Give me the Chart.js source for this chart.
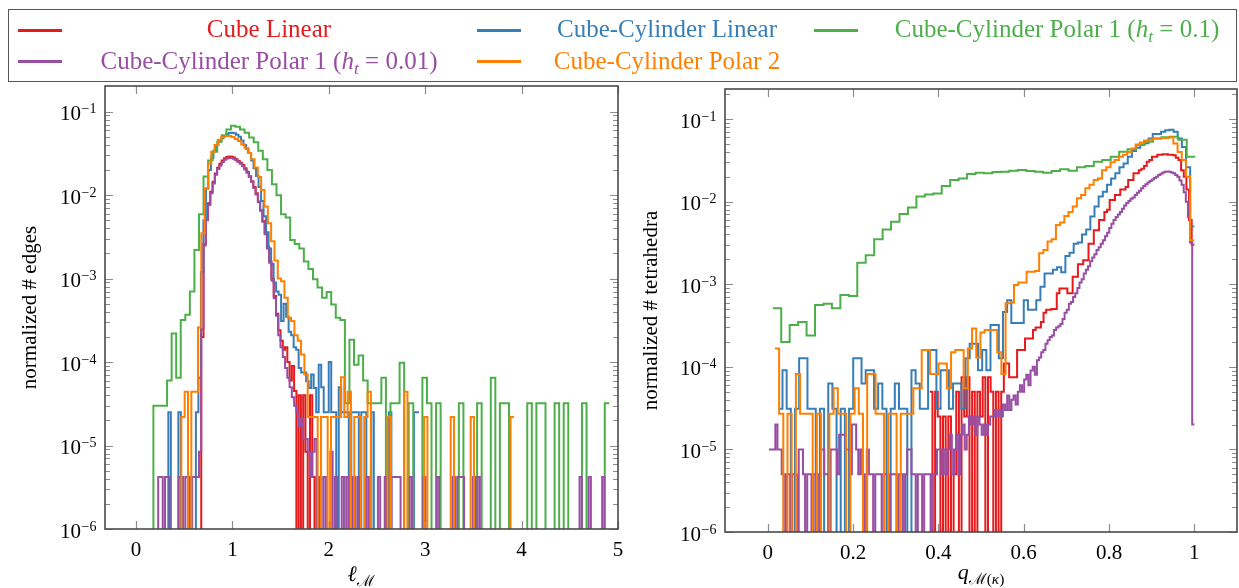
<!DOCTYPE html>
<html>
<head>
<meta charset="utf-8">
<script src="https://cdn.jsdelivr.net/npm/chart.js@4.4.1/dist/chart.umd.min.js"></script>
<style>
  html, body { margin: 0; padding: 0; background: #fff; }
  #page { position: relative; width: 1239px; height: 588px; overflow: hidden;
          font-family: 'Liberation Serif', 'DejaVu Serif', serif; }
  canvas { position: absolute; top: 0; }
  #legendBox { position: absolute; left: 8px; top: 9px; width: 1229px; height: 73px;
               border: 1.5px solid #555; box-sizing: border-box; }
  .swatch { position: absolute; height: 2.5px; width: 44px; }
  .lbl { position: absolute; font-size: 25px; line-height: 1; white-space: nowrap; transform: translateX(-50%); }
  .xt { position: absolute; font-size: 22px; line-height: 1; white-space: nowrap; transform: translateX(-50%); color: #000; }
  sub { font-size: 0.7em; vertical-align: -0.3em; line-height: 0; }
</style>
</head>
<body>
<div id="page">
  <canvas id="lenChart" width="640" height="588" style="left:0"></canvas>
  <canvas id="qChart" width="619" height="588" style="left:620px"></canvas>
  <div id="legendBox"></div>
  <div class="xt" style="left:361px; top:563px;"><i>ℓ</i><sub>ℳ</sub></div>
  <div class="xt" style="left:981px; top:561px;"><i>q</i><sub>ℳ(<i>κ</i>)</sub></div>
</div>
<script>
// series, in pgfplots drawing order
const seriesNames = [
  'Cube Linear',
  'Cube-Cylinder Linear',
  'Cube-Cylinder Polar 1 (<i>h</i><sub><i>t</i></sub> = 0.1)',
  'Cube-Cylinder Polar 1 (<i>h</i><sub><i>t</i></sub> = 0.01)',
  'Cube-Cylinder Polar 2'
];

const yTickVals = [1e-6, 1e-5, 1e-4, 1e-3, 1e-2, 1e-1];
const yTickLabels = ['10^−6', '10^−5', '10^−4', '10^−3', '10^−2', '10^−1'];
const lenTickVals = [0, 1, 2, 3, 4, 5];
const lenTickLabels = ['0', '1', '2', '3', '4', '5'];
const qTickVals = [0, 0.2, 0.4, 0.6, 0.8, 1];
const qTickLabels = ['0', '0.2', '0.4', '0.6', '0.8', '1'];

// left panel: edge length histograms, bins = [first edge, bin width]
const lenCubeLinearBins = [0.653, 0.0235];
const lenCubeLinear = [
  0, 2e-4, 2.6e-3, 5.2e-3, 8e-3, 1.1e-2, 1.45e-2, 1.82e-2, 2.13e-2, 2.37e-2, 2.6e-2,
  2.76e-2, 2.86e-2, 2.9e-2, 2.88e-2, 2.82e-2, 2.7e-2, 2.57e-2, 2.44e-2, 2.3e-2, 2.1e-2,
  1.9e-2, 1.68e-2, 1.47e-2, 1.25e-2, 1.05e-2, 8.4e-3, 6.6e-3, 4.9e-3, 3.5e-3, 2.4e-3,
  1.6e-3, 1e-3, 6.2e-4, 3.8e-4, 2.4e-4, 1.8e-4, 1.4e-4, 1.5e-4, 1e-4, 6e-5,
  9e-5, 4.5e-5, 0, 4e-5, 0, 4e-5, 8.4e-6, 0, 4e-5, 4.2e-6,
  0, 4.2e-6
];

const lenCylLinearBins = [0.309, 0.026];
const lenCylLinear = [
  0, 2.5e-5, 0, 0, 0, 2.5e-5, 0, 0, 0, 0, 0,
  0, 2.5e-5, 6.5e-5, 1.2e-3, 5e-3, 1.2e-2, 2e-2, 2.8e-2, 3.4e-2, 4e-2,
  4.4e-2, 4.8e-2, 5.1e-2, 5.35e-2, 5.55e-2, 5.6e-2, 5.5e-2, 5.3e-2, 5e-2, 4.5e-2,
  4e-2, 3.6e-2, 3.2e-2, 2.6e-2, 2.1e-2, 1.7e-2, 1.25e-2, 8.5e-3, 5.6e-3, 3.6e-3,
  2.3e-3, 1.5e-3, 9e-4, 7e-4, 6.4e-4, 3.1e-4, 5e-4, 3.5e-4, 2.3e-4, 2.1e-4,
  1.5e-4, 1.4e-4, 8.5e-5, 7.5e-5, 7.5e-5, 5.9e-5, 4.9e-5, 7.1e-5, 4.9e-5, 2.5e-5,
  9.3e-5, 5e-5, 2.5e-5, 2.5e-5, 1e-4, 2.5e-5, 2.5e-5, 0, 5e-5, 2.5e-5,
  2.5e-5, 2.5e-5, 0, 2.5e-5, 2.5e-5, 2.5e-5, 0, 2.5e-5, 2.5e-5, 0,
  0, 2.5e-5, 0, 0, 0, 0, 0, 0, 2.5e-5, 0,
  0, 0, 0, 0, 0, 0, 0, 0, 2.5e-5, 2.5e-5
];

const lenPolar1CoarseBins = [0.1327, 0.0473];
const lenPolar1Coarse = [
  0, 3e-5, 3e-5, 3e-5, 6e-5, 2.2e-4, 6.5e-5, 3.2e-4, 3.7e-4, 7e-4, 2.2e-3,
  5.9e-3, 1.67e-2, 2.6e-2, 3.3e-2, 4.4e-2, 5.2e-2, 6.1e-2, 6.8e-2, 6.6e-2, 6.1e-2,
  5.6e-2, 4.9e-2, 4.3e-2, 3.4e-2, 2.7e-2, 2e-2, 1.35e-2, 1e-2, 5.9e-3, 5.4e-3,
  2.9e-3, 2.6e-3, 2.3e-3, 1.6e-3, 1.3e-3, 9.8e-4, 7.8e-4, 5.9e-4, 6.9e-4, 4.9e-4,
  3.4e-4, 3.2e-4, 3.2e-5, 1.85e-4, 9.3e-5, 1.2e-4, 6e-5, 3.2e-5, 3.2e-5, 3.2e-5,
  6.5e-5, 0, 3.2e-5, 3.2e-5, 9.8e-5, 0, 3.2e-5, 0, 0, 6.5e-5,
  3.2e-5, 0, 3.2e-5, 0, 0, 0, 0, 3.2e-5, 0, 0,
  0, 3.2e-5, 0, 0, 6.5e-5, 0, 3.2e-5, 3.2e-5, 0, 0,
  0, 0, 3.2e-5, 0, 3.2e-5, 3.2e-5, 0, 0, 3.2e-5, 0,
  3.2e-5, 0, 0, 0, 3.2e-5, 0, 0, 0, 0, 3.2e-5
];

const lenPolar1FineBins = [0.2065, 0.0235];
const lenPolar1Fine = [
  0, 4.2e-6, 4.2e-6, 0, 4.2e-6, 4.2e-6, 0, 0, 0, 0, 4.2e-6,
  4.2e-6, 0, 4.2e-6, 4.2e-6, 0, 4.2e-6, 4.2e-6, 4.2e-6, 8.4e-6, 2.5e-4,
  2.5e-3, 5e-3, 7.6e-3, 1.05e-2, 1.38e-2, 1.75e-2, 2.05e-2, 2.27e-2, 2.5e-2, 2.65e-2,
  2.74e-2, 2.79e-2, 2.78e-2, 2.73e-2, 2.62e-2, 2.5e-2, 2.38e-2, 2.24e-2, 2.03e-2, 1.85e-2,
  1.65e-2, 1.44e-2, 1.22e-2, 1.02e-2, 8.2e-3, 6.5e-3, 4.8e-3, 3.4e-3, 2.3e-3, 1.55e-3,
  9.5e-4, 5.8e-4, 3.6e-4, 2.1e-4, 1.5e-4, 1.15e-4, 8.5e-5, 6.5e-5, 5e-5, 3.8e-5,
  3e-5, 2.5e-5, 1.7e-5, 2.1e-5, 1.2e-5, 1.2e-5, 8.4e-6, 4.2e-6, 8.4e-6, 1.2e-5,
  0, 4.2e-6, 0, 4.2e-6, 0, 0, 8.4e-6, 0, 4.2e-6, 0,
  0, 4.2e-6, 0, 4.2e-6, 0, 0, 4.2e-6, 0, 4.2e-6, 0,
  0, 0, 4.2e-6, 0, 0, 0, 0, 4.2e-6, 0, 0,
  4.2e-6, 0, 0, 4.2e-6, 4.2e-6, 4.2e-6, 4.2e-6, 0, 0, 0,
  0, 4.2e-6, 0, 0, 0, 0, 0, 4.2e-6, 0, 0,
  0, 0, 0, 4.2e-6, 0, 0, 0, 0, 0, 0,
  4.2e-6, 0, 4.2e-6, 4.2e-6, 4.2e-6, 0, 0, 0, 0, 4.2e-6,
  0, 4.2e-6, 0, 0, 0, 0, 0, 0, 0, 0,
  0, 0, 0, 0, 0, 0, 0, 0, 0, 0,
  0, 0, 0, 0, 0, 0, 0, 0, 0, 0,
  0, 0, 0, 0, 0, 0, 0, 0, 0, 0,
  0, 0, 0, 0, 0, 0, 4.2e-6, 0, 0, 0,
  4.2e-6, 0, 0, 0, 0, 0, 4.2e-6, 0, 0
];

const lenPolar2Bins = [0.4355, 0.0345];
const lenPolar2 = [
  0, 2.2e-5, 4.4e-5, 0, 4.4e-5, 4.4e-5, 2.6e-4, 3.5e-3, 1.2e-2, 2.4e-2, 3.3e-2,
  4e-2, 4.6e-2, 4.95e-2, 5.1e-2, 5.1e-2, 4.97e-2, 4.7e-2, 4.45e-2, 4.05e-2, 3.7e-2,
  3.2e-2, 2.7e-2, 2.15e-2, 1.65e-2, 1.15e-2, 7.3e-3, 4.6e-3, 2.8e-3, 1.65e-3, 1e-3,
  9.3e-4, 5.9e-4, 3.4e-4, 3.1e-4, 2.1e-4, 1.8e-4, 1.23e-4, 7.1e-5, 2.2e-5, 2.2e-5,
  2.2e-5, 0, 2.2e-5, 2.2e-5, 0, 2.2e-5, 2.2e-5, 2.2e-5, 6.6e-5, 2.2e-5,
  4.4e-5, 0, 2.2e-5, 2.2e-5, 0, 2.2e-5, 4.4e-5, 0, 0, 0,
  0, 0, 2.2e-5, 0, 0, 0, 0, 4.4e-5, 0, 0,
  0, 0, 0, 2.2e-5, 0, 0, 0, 0, 0, 0,
  0, 2.2e-5, 0, 0, 0, 0, 0, 2.2e-5, 0, 0,
  0, 0, 0, 0, 0, 0, 0, 0, 0, 2.2e-5
];

// right panel: tetrahedron quality histograms
const qCubeLinearBins = [0.38, 0.0062];
const qCubeLinear = [
  5e-5, 0, 5e-5, 2.5e-5, 0, 2.5e-5, 0, 2.5e-5, 0, 5e-6,
  5e-5, 0, 7.5e-5, 2.5e-5, 7.5e-5, 0, 5e-5, 0, 5e-5, 2.5e-5,
  7.5e-5, 0, 7.5e-5, 5e-5, 0, 5e-5, 0, 5e-5, 1.1e-4, 1.1e-4,
  7.5e-5, 7.5e-5, 7.5e-5, 1.6e-4, 1.6e-4, 1.6e-4, 2.2e-4, 2.2e-4, 2.2e-4, 2.8e-4,
  3e-4, 3e-4, 3.5e-4, 4.5e-4, 4.9e-4, 4.9e-4, 5e-4, 5e-4, 7.8e-4, 8.9e-4,
  8.9e-4, 8.9e-4, 7.8e-4, 7.8e-4, 1.23e-3, 1.23e-3, 1.75e-3, 1.75e-3, 1.95e-3, 1.95e-3,
  3.1e-3, 3.1e-3, 4.5e-3, 4.5e-3, 6e-3, 6e-3, 7.5e-3, 8e-3, 1.05e-2, 1.05e-2,
  1.2e-2, 1.2e-2, 1.4e-2, 1.4e-2, 1.5e-2, 1.83e-2, 1.83e-2, 2.2e-2, 2.2e-2, 2.4e-2,
  2.5e-2, 2.7e-2, 3.04e-2, 3.2e-2, 3.5e-2, 3.5e-2, 3.7e-2, 3.7e-2, 3.75e-2, 3.75e-2,
  3.7e-2, 3.7e-2, 3.65e-2, 3.4e-2, 3.2e-2, 2.4e-2, 2e-2, 1.4e-2, 6e-3, 3e-3
];

const qCylLinearBins = [0.025, 0.00975];
const qCylLinear = [
  3.1e-5, 9.1e-5, 3.1e-5, 0, 3.1e-5, 1.27e-4, 1.27e-4, 3.1e-5, 3.1e-5, 0,
  3.1e-5, 0, 6.3e-5, 3.1e-5, 0, 3.1e-5, 0, 3.1e-5, 1.27e-4, 1.27e-4,
  6.3e-5, 9.1e-5, 9.1e-5, 3.1e-5, 6.3e-5, 3.1e-5, 0, 3.1e-5, 6.3e-5, 3.1e-5,
  3.1e-5, 0, 9.1e-5, 6.3e-5, 3.1e-5, 3.1e-5, 1.6e-4, 1.6e-4, 3.1e-5, 9.1e-5,
  9.1e-5, 3.1e-5, 6.3e-5, 6.3e-5, 3.1e-5, 1.27e-4, 1.9e-4, 1.9e-4, 9.1e-5, 1.6e-4,
  9.1e-5, 3.2e-4, 3.2e-4, 1.27e-4, 4.6e-4, 6.4e-4, 3.4e-4, 3.4e-4, 3.4e-4, 6.4e-4,
  4.9e-4, 4.9e-4, 6.4e-4, 9.3e-4, 1.35e-3, 1.35e-3, 1.5e-3, 1.6e-3, 1.4e-3, 2.2e-3,
  2.4e-3, 3.1e-3, 3.2e-3, 4e-3, 4.6e-3, 6.6e-3, 8.7e-3, 1.15e-2, 1.32e-2, 1.6e-2,
  1.9e-2, 2.2e-2, 2.6e-2, 2.9e-2, 3.5e-2, 4.1e-2, 4.5e-2, 4.9e-2, 5.1e-2, 5.8e-2,
  6.6e-2, 6.6e-2, 7e-2, 7.3e-2, 7.4e-2, 7e-2, 5.8e-2, 4.6e-2, 2.6e-2, 5e-3
];

const qPolar1CoarseBins = [0.012, 0.0198];
const qPolar1Coarse = [
  5.1e-4, 2e-4, 3.2e-4, 3.5e-4, 2.4e-4, 5.6e-4, 5.8e-4, 5.1e-4, 7.4e-4, 7.2e-4,
  1.82e-3, 2.25e-3, 3.5e-3, 4.6e-3, 5.7e-3, 7.1e-3, 8.5e-3, 1.15e-2, 1.22e-2, 1.25e-2,
  1.55e-2, 1.83e-2, 1.91e-2, 2.16e-2, 2.24e-2, 2.2e-2, 2.28e-2, 2.3e-2, 2.37e-2, 2.41e-2,
  2.35e-2, 2.3e-2, 2.24e-2, 2.35e-2, 2.46e-2, 2.37e-2, 2.6e-2, 2.7e-2, 3.04e-2, 3.19e-2,
  3.5e-2, 4.02e-2, 4.3e-2, 4.84e-2, 5.3e-2, 5.8e-2, 6e-2, 6.1e-2, 5.6e-2, 3.5e-2
];

const qPolar1FineBins = [0.003, 0.004985];
const qPolar1Fine = [
  1e-5, 1e-5, 1e-5, 2e-5, 1e-5, 1e-5, 5e-6, 0, 5e-6, 5e-6,
  0, 5e-6, 5e-6, 0, 1e-5, 1e-5, 5e-6, 0, 5e-6, 5e-6,
  0, 5e-6, 5e-6, 0, 1e-5, 1e-5, 5e-6, 5e-6, 0, 1e-5,
  1e-5, 1e-5, 5e-6, 1.5e-5, 1.5e-5, 1.5e-5, 1e-5, 1e-5, 5e-6, 2e-5,
  2e-5, 1e-5, 5e-6, 1e-5, 5e-6, 0, 1e-5, 5e-6, 5e-6, 0,
  5e-6, 5e-6, 5e-6, 0, 5e-6, 5e-6, 0, 5e-6, 5e-6, 5e-6,
  0, 5e-6, 5e-6, 0, 5e-6, 1e-5, 1e-5, 5e-6, 5e-6, 0,
  5e-6, 5e-6, 0, 5e-6, 5e-6, 5e-6, 0, 5e-6, 5e-6, 1e-5,
  1e-5, 5e-6, 1e-5, 5e-6, 1e-5, 1.5e-5, 5e-6, 1e-5, 1.5e-5, 5e-6,
  1.5e-5, 2e-5, 1e-5, 1.5e-5, 2.5e-5, 2e-5, 2.5e-5, 1.5e-5, 2.5e-5, 2e-5,
  1.5e-5, 2e-5, 1.5e-5, 2e-5, 2.5e-5, 2.5e-5, 3e-5, 2.5e-5, 3e-5, 2.5e-5,
  3.5e-5, 3e-5, 4.5e-5, 3e-5, 4e-5, 4.5e-5, 3.5e-5, 5e-5, 6e-5, 5e-5,
  7e-5, 8e-5, 6e-5, 9e-5, 1e-4, 8e-5, 1.2e-4, 1.3e-4, 1.5e-4, 1.6e-4,
  1.9e-4, 2.1e-4, 2.3e-4, 2.4e-4, 2.8e-4, 3e-4, 3.1e-4, 3.3e-4, 3.8e-4, 4.5e-4,
  4.9e-4, 5.8e-4, 6.1e-4, 7e-4, 7.8e-4, 9e-4, 1.05e-3, 1.15e-3, 1.35e-3, 1.5e-3,
  1.65e-3, 1.9e-3, 2.1e-3, 2.3e-3, 2.6e-3, 2.8e-3, 3.1e-3, 3.4e-3, 3.8e-3, 4.2e-3,
  4.8e-3, 5.4e-3, 6e-3, 6.5e-3, 7e-3, 7.5e-3, 8.2e-3, 9e-3, 9.6e-3, 1.02e-2,
  1.08e-2, 1.12e-2, 1.2e-2, 1.28e-2, 1.35e-2, 1.45e-2, 1.55e-2, 1.62e-2, 1.7e-2, 1.78e-2,
  1.85e-2, 1.93e-2, 2e-2, 2.1e-2, 2.18e-2, 2.25e-2, 2.3e-2, 2.32e-2, 2.3e-2, 2.25e-2,
  2.2e-2, 2.1e-2, 2e-2, 1.8e-2, 1.6e-2, 1.3e-2, 1e-2, 6.5e-3, 3.2e-3, 2e-5
];

const qPolar2Bins = [0.017, 0.00983];
const qPolar2 = [
  1.67e-4, 2.7e-5, 0, 2.7e-5, 0, 8.2e-5, 2.7e-5, 2.7e-5, 2.7e-5, 0,
  2.7e-5, 0, 0, 2.7e-5, 5.5e-5, 2.7e-5, 2.7e-5, 0, 2.7e-5, 5.5e-5,
  2.7e-5, 0, 8.2e-5, 8.2e-5, 2.7e-5, 2.7e-5, 0, 2.7e-5, 2.7e-5, 0,
  2.7e-5, 2.7e-5, 2.7e-5, 5.5e-5, 5.5e-5, 1.6e-4, 1.6e-4, 8.2e-5, 8.2e-5, 1.1e-4,
  1.1e-4, 5.5e-5, 1.5e-4, 1.6e-4, 1.6e-4, 5.5e-5, 1.67e-4, 2.9e-4, 1.3e-4, 2.6e-4,
  2.8e-4, 2.8e-4, 2.8e-4, 1.5e-4, 8.2e-5, 5.9e-4, 6e-4, 9.8e-4, 1.05e-3, 1.05e-3,
  1.42e-3, 1.42e-3, 1.45e-3, 2.37e-3, 2.6e-3, 3.3e-3, 3.5e-3, 5.2e-3, 5.6e-3, 6.7e-3,
  7.5e-3, 8.7e-3, 1.1e-2, 1.2e-2, 1.45e-2, 1.6e-2, 1.83e-2, 1.9e-2, 2.4e-2, 2.6e-2,
  3e-2, 3.2e-2, 3.5e-2, 3.7e-2, 4e-2, 4.4e-2, 4.9e-2, 5.2e-2, 5.5e-2, 5.6e-2,
  5.8e-2, 5.8e-2, 5.9e-2, 5.9e-2, 6e-2, 5.07e-2, 4e-2, 3.2e-2, 2e-2, 3.4e-3
];

const colors = ['#e41a1c', '#377eb8', '#4daf4a', '#984ea3', '#ff7f00'];
const serif = "'Liberation Serif', 'DejaVu Serif', serif";

// legend: 3 columns, row-major like pgfplots
const legendCols = [{ line: 18, text: 269 }, { line: 477, text: 667 }, { line: 814, text: 1057 }];
const legendRows = [{ line: 29, text: 16 }, { line: 60, text: 48 }];
const page = document.getElementById('page');
seriesNames.forEach((name, i) => {
  const col = legendCols[i % 3], row = legendRows[Math.floor(i / 3)];
  const sw = document.createElement('div');
  sw.className = 'swatch';
  sw.style.left = col.line + 'px';
  sw.style.top = row.line + 'px';
  sw.style.background = colors[i];
  page.appendChild(sw);
  const lb = document.createElement('div');
  lb.className = 'lbl';
  lb.style.left = col.text + 'px';
  lb.style.top = row.text + 'px';
  lb.style.color = colors[i];
  lb.innerHTML = name;
  page.appendChild(lb);
});

// outline of one histogram: two corners per bin, empty bins fall below the axis
function histPoints(bins, vals) {
  const start = bins[0], step = bins[1];
  const pts = [];
  vals.forEach((v, i) => {
    const y = v > 0 ? v : 1e-9;
    pts.push({ x: start + i * step, y: y });
    pts.push({ x: start + (i + 1) * step, y: y });
  });
  return pts;
}

// frame with inward ticks on all four sides, plus 10^k labels with a real superscript
const frameTicks = {
  id: 'frameTicks',
  afterDatasetsDraw(chart) {
    const { ctx, chartArea: a, scales: { x, y } } = chart;
    ctx.save();
    ctx.strokeStyle = '#8c8c8c';
    ctx.lineWidth = 1.2;
    ctx.beginPath();
    x.ticks.forEach(t => {
      const px = Math.round(x.getPixelForValue(t.value)) + 0.5;
      ctx.moveTo(px, a.bottom); ctx.lineTo(px, a.bottom - 8);
      ctx.moveTo(px, a.top); ctx.lineTo(px, a.top + 8);
    });
    yTickVals.forEach(d => {
      for (let m = 1; m < 10; m++) {
        const v = d * m;
        if (v > y.max * 0.97) continue;
        const py = Math.round(y.getPixelForValue(v)) + 0.5;
        const len = m === 1 ? 8 : 5;
        ctx.moveTo(a.left, py); ctx.lineTo(a.left + len, py);
        ctx.moveTo(a.right, py); ctx.lineTo(a.right - len, py);
      }
    });
    ctx.stroke();
    ctx.strokeStyle = '#4a4a4a';
    ctx.lineWidth = 1.6;
    ctx.strokeRect(a.left, a.top, a.right - a.left, a.bottom - a.top);

    ctx.fillStyle = '#000';
    ctx.textAlign = 'left';
    ctx.textBaseline = 'alphabetic';
    yTickVals.forEach((v, i) => {
      const parts = yTickLabels[i].split('^');
      const py = y.getPixelForValue(v);
      ctx.font = '21px ' + serif;
      const wb = ctx.measureText(parts[0]).width;
      ctx.font = '14px ' + serif;
      const we = ctx.measureText(parts[1]).width;
      const x0 = a.left - 9 - wb - we;
      ctx.font = '21px ' + serif;
      ctx.fillText(parts[0], x0, py + 8.5);
      ctx.font = '14px ' + serif;
      ctx.fillText(parts[1], x0 + wb + 0.5, py + 1.5);
    });
    ctx.restore();
  }
};

function makePanel(canvasId, series, p) {
  const datasets = series.map((s, i) => ({
    data: histPoints(s[0], s[1]),
    borderColor: colors[i],
    borderWidth: 2,
    pointRadius: 0,
    fill: false,
    tension: 0,
    order: 5 - i
  }));
  return new Chart(document.getElementById(canvasId), {
    type: 'line',
    data: { datasets: datasets },
    options: {
      responsive: false,
      animation: false,
      devicePixelRatio: 1,
      layout: { padding: { top: p.top, right: p.right, bottom: 0, left: 0 } },
      plugins: { legend: { display: false }, tooltip: { enabled: false } },
      scales: {
        x: {
          type: 'linear', min: p.xMin, max: p.xMax, bounds: 'data',
          grid: { display: false }, border: { display: false },
          afterBuildTicks: s => { s.ticks = p.xTicks.map(v => ({ value: v })); },
          ticks: {
            autoSkip: false, maxRotation: 0, padding: 1, color: '#000',
            font: { family: serif, size: 21 },
            callback: (v, i) => p.xLabels[i]
          },
          afterFit: s => { s.height = p.xHeight; s.paddingLeft = 0; s.paddingRight = 0; }
        },
        y: {
          type: 'logarithmic', min: 1e-6, max: p.yMax, bounds: 'data',
          grid: { display: false }, border: { display: false },
          afterBuildTicks: s => { s.ticks = yTickVals.map(v => ({ value: v })); },
          ticks: { display: false },
          title: {
            display: true, text: p.yTitle, color: '#000',
            font: { family: serif, size: 21 }, padding: { top: p.titlePad, bottom: 0 }
          },
          afterFit: s => { s.width = 105; s.paddingTop = 0; s.paddingBottom = 0; }
        }
      }
    },
    plugins: [frameTicks]
  });
}

makePanel('lenChart', [
  [lenCubeLinearBins, lenCubeLinear],
  [lenCylLinearBins, lenCylLinear],
  [lenPolar1CoarseBins, lenPolar1Coarse],
  [lenPolar1FineBins, lenPolar1Fine],
  [lenPolar2Bins, lenPolar2]
], {
  top: 86, right: 22, xHeight: 59, xMin: -0.322, xMax: 5.0, yMax: 0.203,
  xTicks: lenTickVals, xLabels: lenTickLabels,
  yTitle: 'normalized # edges', titlePad: 18
});

makePanel('qChart', [
  [qCubeLinearBins, qCubeLinear],
  [qCylLinearBins, qCylLinear],
  [qPolar1CoarseBins, qPolar1Coarse],
  [qPolar1FineBins, qPolar1Fine],
  [qPolar2Bins, qPolar2]
], {
  top: 89, right: 2, xHeight: 56, xMin: -0.1, xMax: 1.1, yMax: 0.231,
  xTicks: qTickVals, xLabels: qTickLabels,
  yTitle: 'normalized # tetrahedra', titlePad: 19
});
</script>
</body>
</html>
